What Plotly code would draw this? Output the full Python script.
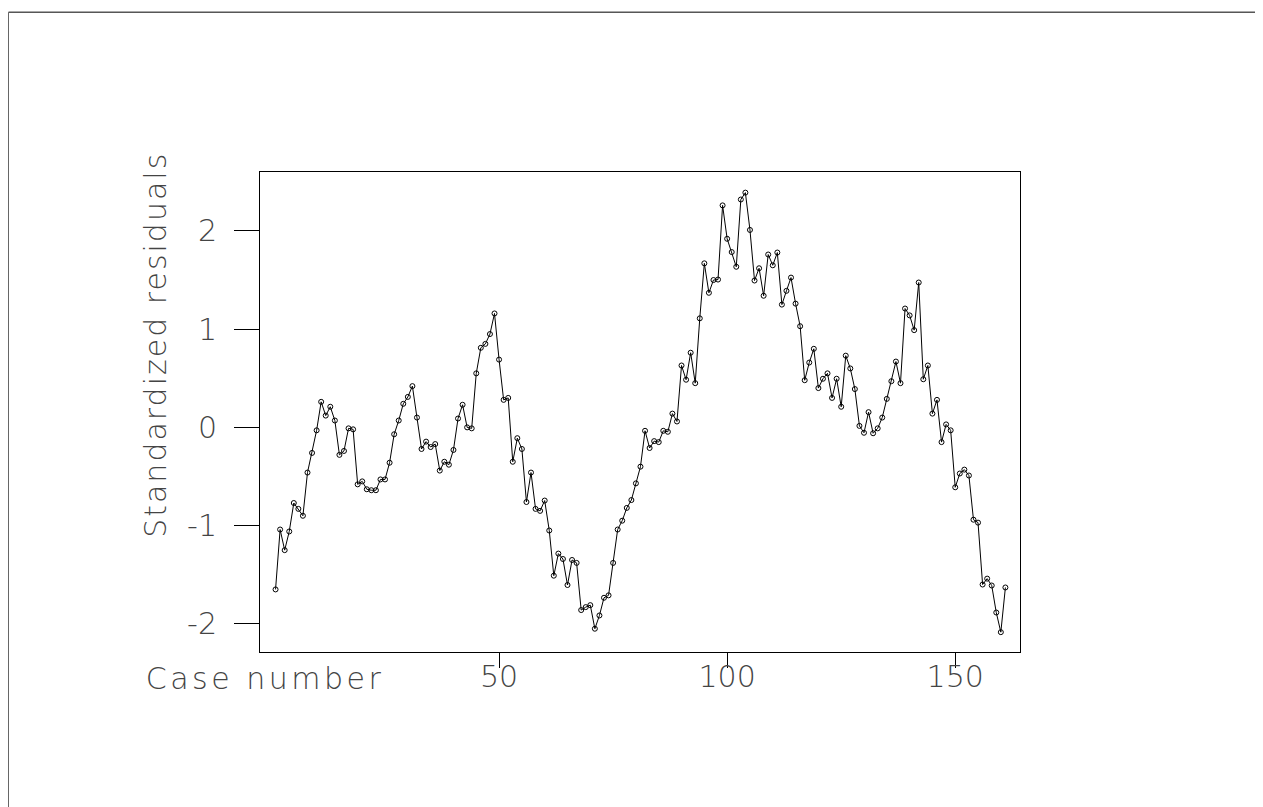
import plotly.graph_objects as go

case_number = list(range(1, 162))
std_residuals = [
    -1.65, -1.04, -1.25, -1.06, -0.77, -0.83, -0.90, -0.46, -0.26, -0.03,
    0.26, 0.12, 0.21, 0.07, -0.28, -0.24, -0.01, -0.02, -0.58, -0.55,
    -0.63, -0.64, -0.64, -0.53, -0.53, -0.36, -0.07, 0.07, 0.24, 0.31,
    0.42, 0.10, -0.22, -0.145, -0.20, -0.17, -0.44, -0.35, -0.38, -0.23,
    0.09, 0.23, 0.00, -0.01, 0.55, 0.81, 0.85, 0.95, 1.16, 0.69,
    0.28, 0.30, -0.35, -0.11, -0.22, -0.76, -0.46, -0.83, -0.85, -0.745,
    -1.05, -1.51, -1.285, -1.34, -1.605, -1.35, -1.38, -1.86, -1.83, -1.81,
    -2.05, -1.915, -1.735, -1.71, -1.38, -1.04, -0.95, -0.82, -0.74, -0.57,
    -0.40, -0.035, -0.21, -0.14, -0.15, -0.035, -0.045, 0.14, 0.06, 0.63,
    0.485, 0.76, 0.45, 1.11, 1.67, 1.37, 1.50, 1.505, 2.26, 1.92,
    1.785, 1.635, 2.32, 2.39, 2.01, 1.495, 1.62, 1.34, 1.76, 1.65,
    1.78, 1.25, 1.39, 1.525, 1.26, 1.03, 0.48, 0.66, 0.80, 0.40,
    0.495, 0.55, 0.30, 0.495, 0.21, 0.73, 0.60, 0.39, 0.015, -0.055,
    0.155, -0.06, -0.01, 0.10, 0.29, 0.47, 0.67, 0.45, 1.21, 1.14,
    0.99, 1.475, 0.49, 0.63, 0.14, 0.28, -0.15, 0.03, -0.03, -0.61,
    -0.47, -0.43, -0.49, -0.94, -0.97, -1.60, -1.54, -1.61, -1.885, -2.085,
    -1.63,
]

x_tickvals = [50, 100, 150]
x_ticktext = ["50", "100", "150"]
y_tickvals = [-2, -1, 0, 1, 2]
y_ticktext = ["-2", "-1", "0", "1", "2"]

x_title = "Case number"
y_title = "Standardized residuals"

FONT = dict(family="DejaVu Sans", size=30, color="#444444", weight=200)

fig = go.Figure()
fig.add_trace(go.Scatter(
    x=case_number, y=std_residuals, mode="lines+markers",
    line=dict(color="black", width=1),
    marker=dict(symbol="circle-open", size=5, color="black", line=dict(width=1, color="black")),
    showlegend=False, hoverinfo="skip",
))

# page body has an 8px default margin
OFF = 8
W, H = 1263, 807
L, T = 260 - OFF, 172 - OFF
pw, ph = 760, 480.5
R = W - L - pw
B = H - T - ph

def px_to_paper_x(px):  # px in screenshot coordinates
    return (px - OFF - L) / pw

def px_to_paper_y(py):
    return (T + ph - (py - OFF)) / ph

fig.update_layout(
    width=W, height=H,
    margin=dict(l=L, r=R, t=T, b=B, pad=0),
    paper_bgcolor="white", plot_bgcolor="white",
    font=FONT,
    xaxis=dict(
        range=[-2.41, 164.2], tickmode="array", tickvals=x_tickvals, ticktext=x_ticktext,
        ticks="outside", ticklen=15, tickwidth=1, tickcolor="black",
        showline=True, mirror=True, linecolor="black", linewidth=1,
        showgrid=False, zeroline=False, tickfont=FONT, ticklabelstandoff=-17,
    ),
    yaxis=dict(
        range=[-2.287, 2.60], tickmode="array", tickvals=y_tickvals, ticktext=y_ticktext,
        ticks="outside", ticklen=25, tickwidth=1, tickcolor="black",
        showline=True, mirror=True, linecolor="black", linewidth=1,
        showgrid=False, zeroline=False, tickfont=FONT, ticklabelstandoff=11,
    ),
    annotations=[
        dict(text=x_title, xref="paper", yref="paper",
             x=px_to_paper_x(265), y=px_to_paper_y(679), xanchor="center", yanchor="middle",
             showarrow=False, font=FONT),
        dict(text=y_title, xref="paper", yref="paper", textangle=-90,
             x=px_to_paper_x(156), y=px_to_paper_y(345), xanchor="center", yanchor="middle",
             showarrow=False, font=FONT),
    ],
    shapes=[
        dict(type="line", xref="paper", yref="paper",
             x0=px_to_paper_x(8.5), x1=px_to_paper_x(1275), y0=px_to_paper_y(12), y1=px_to_paper_y(12),
             line=dict(color="black", width=1)),
        dict(type="line", xref="paper", yref="paper",
             x0=px_to_paper_x(8.5), x1=px_to_paper_x(8.5), y0=px_to_paper_y(12), y1=px_to_paper_y(820),
             line=dict(color="#666666", width=1)),
    ],
)

post = """
document.querySelectorAll('.annotation-text').forEach(function(t){
  var s = t.textContent === 'Case number' ? '3.5px' : '2.0px';
  t.style.letterSpacing = s;
});
"""

fig.write_html("out.html", post_script=post)
